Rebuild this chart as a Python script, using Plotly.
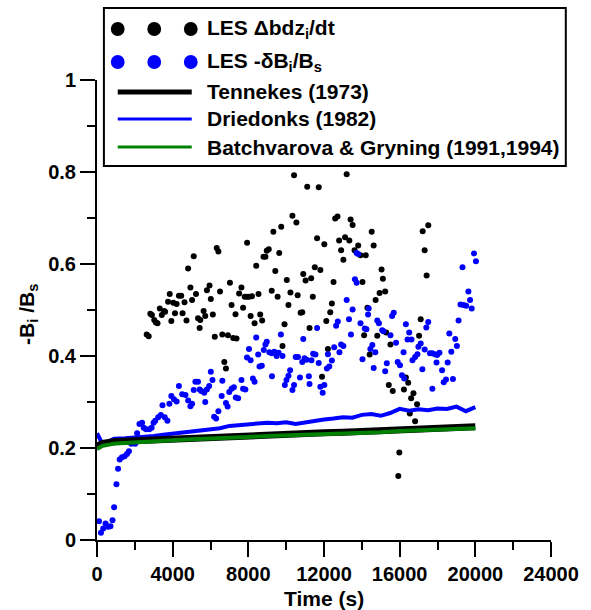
import plotly.graph_objects as go

# ---------------- data ----------------
les_flux_t = [2626, 2731, 2818, 2904, 3026, 3113, 3200, 3322, 3426, 3548, 3600, 3757, 3844, 3930, 4035,
              4122, 4209, 4330, 4452, 4522, 4626, 4730, 4817, 4939, 5026, 5113, 5235, 5339, 5426, 5461,
              5635, 5722, 5809, 5948, 6017, 6122, 6226, 6330, 6417, 6504, 6626, 6730, 6817, 6922, 7026,
              7113, 7200, 7322, 7374, 7513, 7635, 7722, 7809, 7930, 7935, 8035, 8122, 8191, 8330, 8417,
              8539, 8626, 8730, 8800, 8904, 8974, 9078, 9235, 9321, 9426, 9548, 9634, 9739, 9808, 9913,
              10034, 10121, 10226, 10330, 10417, 10539, 10608, 10765, 10852, 10904, 11026, 11113, 11234,
              11321, 11408, 11513, 11634, 11721, 11808, 11895, 12017, 12121, 12208, 12330, 12417, 12504,
              12591, 12713, 12799, 12904, 13025, 13112, 13199, 13338, 13408, 13512, 13616, 13808, 13929,
              14034, 14121, 14207, 14295, 14416, 14521, 14625, 14729, 14816, 14938, 15042, 15112, 15234,
              15286, 15425, 15512, 15634, 15929, 15981, 16225, 16329, 16451, 16538, 16607, 16729, 16816,
              16920, 17025, 17112, 17216, 17320, 17425, 17512]
les_flux_v = [0.447, 0.443, 0.492, 0.489, 0.478, 0.473, 0.471, 0.503, 0.489, 0.498, 0.496, 0.518, 0.535, 0.476, 0.516,
              0.493, 0.513, 0.531, 0.531, 0.493, 0.517, 0.477, 0.590, 0.549, 0.522, 0.617, 0.535, 0.482, 0.461, 0.478,
              0.498, 0.487, 0.543, 0.553, 0.524, 0.490, 0.442, 0.635, 0.627, 0.540, 0.447, 0.387, 0.373, 0.445, 0.559,
              0.511, 0.439, 0.491, 0.438, 0.536, 0.549, 0.505, 0.529, 0.529, 0.646, 0.529, 0.487, 0.530, 0.471, 0.596,
              0.535, 0.490, 0.477, 0.616, 0.616, 0.629, 0.632, 0.542, 0.670, 0.585, 0.529, 0.624, 0.681, 0.422, 0.469,
              0.565, 0.511, 0.538, 0.705, 0.793, 0.690, 0.532, 0.494, 0.495, 0.578, 0.564, 0.768, 0.461,
              0.569, 0.529, 0.593, 0.656, 0.767, 0.587, 0.355, 0.643, 0.476, 0.415, 0.495, 0.514, 0.561,
              0.699, 0.703, 0.651, 0.630, 0.609, 0.658, 0.795, 0.651, 0.697, 0.685, 0.630, 0.640, 0.619,
              0.561, 0.445, 0.619, 0.505, 0.403, 0.670, 0.640, 0.522, 0.444, 0.537, 0.588, 0.568, 0.540,
              0.451, 0.337, 0.425, 0.324, 0.139, 0.190, 0.327, 0.353, 0.342, 0.275, 0.308, 0.319, 0.258,
              0.295, 0.444, 0.480, 0.671, 0.630, 0.575, 0.684]

les_buoy_t = [105, 209, 331, 452, 592, 713, 818, 905, 1026, 1113, 1200, 1322, 1461, 1583, 1687, 1809, 2018,
              2122, 2244, 2383, 2470, 2591, 2765, 2887, 2991, 3078, 3235, 3374, 3461, 3583, 3722, 3826, 3930,
              4070, 4209, 4330, 4504, 4678, 4817, 4939, 5026, 5113, 5200, 5339, 5426, 5513, 5669, 5722, 5809,
              5930, 6017, 6104, 6191, 6296, 6417, 6591, 6626, 6817, 6904, 6991, 7113, 7235, 7339, 7461, 7635,
              7722, 7843, 7930, 8035, 8122, 8243, 8330, 8417, 8521, 8591, 8713, 8817, 8904, 8974, 9113, 9235,
              9250, 9374, 9495, 9600, 9721, 9808, 9930, 10017, 10121, 10208, 10330, 10417, 10504, 10626, 10730,
              10852, 10904, 10974, 11078, 11200, 11234, 11339, 11426, 11547, 11634, 11721, 11808, 11930, 12017,
              12156, 12208, 12278, 12417, 12539, 12640, 12730, 12816, 12903, 13025, 13199, 13321, 13425, 13512,
              13634, 13721, 13725, 13808, 13930, 14034, 14155, 14242, 14329, 14364, 14451, 14555, 14625, 14712,
              14816, 14903, 15077, 15147, 15234, 15321, 15512, 15599, 15686, 15808, 15894, 16016, 16121, 16207,
              16242, 16329, 16416, 16503, 16625, 16677, 16816, 16938, 16990, 17112, 17199, 17321, 17408, 17512,
              17599, 17720, 17730, 17860, 17947, 17981, 18103, 18242, 18329, 18451, 18538, 18625, 18729, 18816,
              18938, 19025, 19112, 19216, 19320, 19372, 19512, 19633, 19720, 19807, 19929, 20033]
les_buoy_v = [0.041, 0.016, 0.025, 0.036, 0.029, 0.030, 0.043, 0.071, 0.121, 0.155, 0.175, 0.180, 0.182, 0.187, 0.193, 0.209, 0.209,
              0.232, 0.252, 0.255, 0.244, 0.241, 0.241, 0.244, 0.255, 0.259, 0.267, 0.272, 0.293, 0.267, 0.259, 0.296, 0.313,
              0.306, 0.301, 0.335, 0.317, 0.315, 0.303, 0.291, 0.296, 0.326, 0.344, 0.344, 0.327, 0.324, 0.320, 0.300, 0.327,
              0.335, 0.366, 0.348, 0.268, 0.264, 0.280, 0.313, 0.346, 0.298, 0.290, 0.322, 0.329, 0.332, 0.310, 0.308, 0.348,
              0.329, 0.327, 0.397, 0.415, 0.391, 0.351, 0.344, 0.440, 0.403, 0.377, 0.379, 0.413, 0.425, 0.431, 0.408, 0.406,
              0.356, 0.409, 0.400, 0.407, 0.447, 0.400, 0.337, 0.348, 0.357, 0.369, 0.326, 0.337, 0.398, 0.398, 0.353,
              0.387, 0.437, 0.395, 0.392, 0.356, 0.339, 0.391, 0.405, 0.403, 0.461, 0.385, 0.333, 0.320, 0.337,
              0.373, 0.404, 0.377, 0.390, 0.419, 0.466, 0.475, 0.408, 0.425, 0.422, 0.522, 0.480, 0.447, 0.501,
              0.567, 0.624, 0.559, 0.622, 0.471, 0.393, 0.460, 0.458, 0.490, 0.503, 0.415, 0.424, 0.374, 0.408,
              0.477, 0.471, 0.456, 0.454, 0.367, 0.384, 0.445, 0.487, 0.494, 0.429, 0.387, 0.380, 0.358, 0.408,
              0.351, 0.469, 0.436, 0.451, 0.436, 0.391, 0.398, 0.404, 0.420, 0.427, 0.371, 0.414, 0.462, 0.474,
              0.406, 0.406, 0.329, 0.404, 0.386, 0.402, 0.407, 0.369, 0.343, 0.349, 0.386, 0.449, 0.409, 0.350,
              0.437, 0.422, 0.477, 0.512, 0.593, 0.511, 0.509, 0.540, 0.522, 0.503, 0.623, 0.606]

model_t = [0, 300, 1000, 2000, 3000, 4000, 5000, 6000, 7000, 8000, 9000, 10000, 11000, 12000, 13000, 14000,
           15000, 16000, 17000, 18000, 19000, 20000]
tennekes_v = [0.204, 0.210, 0.214, 0.216, 0.218, 0.220, 0.222, 0.223, 0.225, 0.227, 0.229, 0.230, 0.231, 0.233,
              0.234, 0.236, 0.237, 0.240, 0.241, 0.242, 0.243, 0.246]
batch_v = [0.198, 0.205, 0.210, 0.213, 0.215, 0.217, 0.219, 0.220, 0.222, 0.224, 0.226, 0.227, 0.228, 0.230,
           0.231, 0.233, 0.234, 0.237, 0.238, 0.239, 0.240, 0.243]

dried_t = [0, 100, 250, 400, 600, 900, 1500, 2000, 2500, 3000, 3500, 4000, 4500, 5000, 5500, 6000, 6500, 7000,
           7500, 8000, 8500, 9000, 9500, 10000, 10500, 11000, 11500, 12000, 12500, 13000, 13500, 14000, 14500,
           15000, 15500, 16000, 16500, 17000, 17500, 18000, 18500, 19000, 19500, 20000]
dried_v = [0.232, 0.222, 0.212, 0.210, 0.215, 0.220, 0.221, 0.222, 0.224, 0.226, 0.229, 0.231, 0.235, 0.236, 0.238,
           0.239, 0.243, 0.248, 0.250, 0.251, 0.254, 0.255, 0.254, 0.256, 0.252, 0.256, 0.259, 0.262, 0.264, 0.267,
           0.266, 0.272, 0.274, 0.270, 0.276, 0.285, 0.281, 0.284, 0.282, 0.286, 0.285, 0.290, 0.280, 0.289]

x_ticks = [0, 4000, 8000, 12000, 16000, 20000, 24000]
y_ticks = [0, 0.2, 0.4, 0.6, 0.8, 1]

legend_labels = ["LES \u0394bdz<sub>i</sub>/dt", "LES -\u03b4B<sub>i</sub>/B<sub>s</sub>",
                 "Tennekes (1973)", "Driedonks (1982)", "Batchvarova & Gryning (1991,1994)"]

# ---------------- figure ----------------
FONT = "Liberation Sans, Arial, sans-serif"
BLUE = "#0000ff"
GREEN = "#008000"

fig = go.Figure()
fig.add_trace(go.Scatter(x=les_flux_t, y=les_flux_v, mode="markers",
                         marker=dict(color="black", size=6), showlegend=False))
fig.add_trace(go.Scatter(x=les_buoy_t, y=les_buoy_v, mode="markers",
                         marker=dict(color=BLUE, size=6), showlegend=False))
fig.add_trace(go.Scatter(x=dried_t, y=dried_v, mode="lines",
                         line=dict(color=BLUE, width=4), showlegend=False))
fig.add_trace(go.Scatter(x=model_t, y=tennekes_v, mode="lines",
                         line=dict(color="black", width=7), showlegend=False))
fig.add_trace(go.Scatter(x=model_t, y=batch_v, mode="lines",
                         line=dict(color=GREEN, width=4), showlegend=False))

axis_common = dict(showline=True, linecolor="black", linewidth=2, ticks="outside", ticklen=15,
                   tickwidth=2, tickcolor="black", showgrid=False, zeroline=False,
                   tickfont=dict(family=FONT, size=20, color="black", weight="bold"))

fig.update_xaxes(range=[0, 24000], tickvals=x_ticks, ticktext=[str(v) for v in x_ticks],
                 minor=dict(ticks="outside", ticklen=8, tickwidth=2, tickcolor="black", dtick=2000, showgrid=False),
                 **axis_common)
fig.update_yaxes(range=[0, 1], tickvals=y_ticks, ticktext=["0", "0.2", "0.4", "0.6", "0.8", "1"],
                 minor=dict(ticks="outside", ticklen=8, tickwidth=2, tickcolor="black", dtick=0.1, showgrid=False),
                 **axis_common)

# plot area is 460 x 460 px; helpers to convert legend pixel offsets to paper units
P = 460.0
def px(x):
    return (x - 97) / P
def py(y):
    return (540 - y) / P

shapes = [dict(type="rect", xref="paper", yref="paper", x0=px(104), x1=px(572), y0=py(166), y1=py(8),
               line=dict(color="black", width=2), fillcolor="white", layer="above")]
row_y = [29, 62, 92, 119, 147]
r = 7
for cx in (118, 155, 192):
    shapes.append(dict(type="circle", xref="paper", yref="paper", x0=px(cx - r), x1=px(cx + r),
                       y0=py(row_y[0] + r), y1=py(row_y[0] - r), fillcolor="black",
                       line=dict(color="black", width=0), layer="above"))
    shapes.append(dict(type="circle", xref="paper", yref="paper", x0=px(cx - r), x1=px(cx + r),
                       y0=py(row_y[1] + r), y1=py(row_y[1] - r), fillcolor=BLUE,
                       line=dict(color=BLUE, width=0), layer="above"))
for yy, col, w in ((row_y[2], "black", 5), (row_y[3], BLUE, 3), (row_y[4], GREEN, 3)):
    shapes.append(dict(type="line", xref="paper", yref="paper", x0=px(118), x1=px(193), y0=py(yy), y1=py(yy),
                       line=dict(color=col, width=w), layer="above"))

annotations = []
for lbl, yy in zip(legend_labels, row_y):
    annotations.append(dict(text=lbl, xref="paper", yref="paper", x=px(206), y=py(yy), xanchor="left",
                            yanchor="middle", showarrow=False,
                            font=dict(family=FONT, size=21, color="black", weight="bold")))
annotations.append(dict(text="Time (s)", xref="paper", yref="paper", x=0.5, y=py(598), xanchor="center",
                        yanchor="middle", showarrow=False,
                        font=dict(family=FONT, size=21, color="black", weight="bold")))
annotations.append(dict(text="-B<sub>i</sub> /B<sub>s</sub>", xref="paper", yref="paper", x=px(27), y=py(314),
                        xanchor="center", yanchor="middle", textangle=-90, showarrow=False,
                        font=dict(family=FONT, size=21, color="black", weight="bold")))

fig.update_layout(width=591, height=610, margin=dict(l=97, r=34, t=80, b=70),
                  paper_bgcolor="white", plot_bgcolor="white", showlegend=False,
                  shapes=shapes, annotations=annotations)

fig.write_html("out.html")
